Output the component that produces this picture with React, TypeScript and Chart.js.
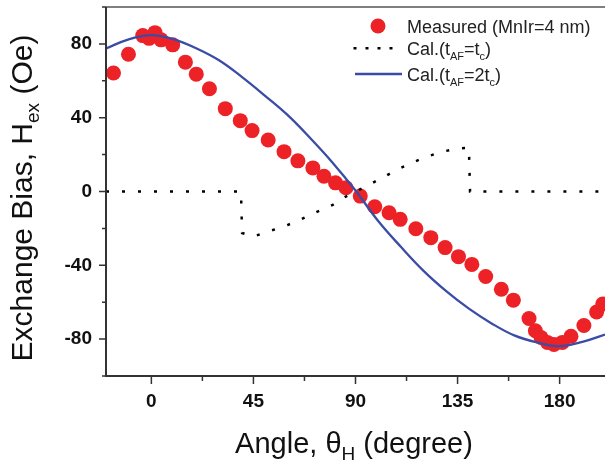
import React, { useEffect, useRef } from "react";
import { Chart, registerables } from "chart.js";

Chart.register(...registerables);

// ---- data ----
const measuredAngle = [
  -16.7, -10.1, -3.8, -1, 1.6, 4.3, 9.4, 15, 19.8, 25.6, 32.6, 39.2, 44.4, 51.5, 58.5, 64.6,
  71.2, 76.1, 81.2, 85.8, 92.1, 98.5, 104.8, 109.7, 116.6, 123.2, 129.5, 135.4, 141.3, 147.4,
  154.3, 159.6, 166.5, 169.3, 171.8, 174.6, 177.5, 181.2, 185, 190.7, 196.3, 199,
];
const measuredHex = [
  64.2, 74.4, 84.5, 83, 86.1, 82.2, 79.5, 70.1, 63.6, 55.7, 44.9, 38.4, 33, 27.9, 21.6, 16.6,
  12.8, 8.3, 4.7, 2.0, -2.5, -8.3, -11.5, -15.1, -20.2, -25, -30.4, -35.3, -39.5, -46.1,
  -53, -58.9, -68.8, -75.5, -79.1, -81.8, -82.9, -81.8, -78.5, -72.6, -65.3, -61,
];

const calTcAngle = [
  -20, 39.5, 40, 45, 50, 55, 60, 65, 70, 75, 80, 85, 90, 95, 100, 105, 110, 115, 120, 125,
  130, 135, 140, 140.5, 200,
];
const calTcHex = [
  0, 0, -22.5, -24.4, -22.3, -20.3, -18.2, -15.6, -12.7, -9.9, -7.2, -3.2, 0, 2.9, 6.3, 9.6,
  12.8, 15.6, 18.2, 20.3, 22, 23.3, 23.7, 0, 0,
];

const cal2TcAngle = [
  -20, -10, 0, 10, 20, 30, 40, 50, 60, 70, 80, 90, 100, 110, 120, 130, 140, 150, 160, 170,
  180, 190, 200,
];
const cal2TcHex = [
  77.5, 82.5, 84.8, 82.5, 77.5, 71, 62, 52, 41.5, 29, 15.5, 0.5, -16, -30, -43, -54, -63.5,
  -71.5, -78, -81.8, -83.8, -81.5, -77.5,
];

const xTicks = [0, 45, 90, 135, 180];
const xMinorTicks = [22.5, 67.5, 112.5, 157.5];
const yTicks = [-80, -40, 0, 40, 80];
const yMinorTicks = [-100, -60, -20, 20, 60, 100];

const legendLabels = ["Measured (MnIr=4 nm)", "Cal.(t", "AF", "=t", "c", ")"];

const FONT = "'Liberation Sans', Arial, Helvetica, sans-serif";
const RED = "#ec2227";
const BLUE = "#3a4ca5";
const AXIS = "#333333";

type Part = { t: string; size: number; dy: number };

function drawParts(ctx: CanvasRenderingContext2D, parts: Part[], x: number, y: number, align: "left" | "center") {
  let total = 0;
  const widths = parts.map((p) => {
    ctx.font = `${p.size}px ${FONT}`;
    const w = ctx.measureText(p.t).width;
    total += w;
    return w;
  });
  let cx = align === "center" ? x - total / 2 : x;
  ctx.textAlign = "left";
  ctx.textBaseline = "alphabetic";
  parts.forEach((p, i) => {
    ctx.font = `${p.size}px ${FONT}`;
    ctx.fillText(p.t, cx, y + p.dy);
    cx += widths[i];
  });
}

const decorPlugin = {
  id: "decor",
  afterDatasetsDraw(chart: any) {
    const ctx: CanvasRenderingContext2D = chart.ctx;
    const { left, right, top, bottom } = chart.chartArea;
    const xs = chart.scales.x;
    const ys = chart.scales.y;
    ctx.save();
    // frame
    ctx.strokeStyle = "#555555";
    ctx.lineWidth = 1.5;
    ctx.beginPath();
    ctx.moveTo(left, top);
    ctx.lineTo(right, top);
    ctx.stroke();
    ctx.strokeStyle = AXIS;
    ctx.lineWidth = 2;
    ctx.beginPath();
    ctx.moveTo(left, top);
    ctx.lineTo(left, bottom);
    ctx.lineTo(right, bottom);
    ctx.stroke();
    // ticks
    ctx.lineWidth = 1.5;
    ctx.beginPath();
    yTicks.forEach((v) => {
      const py = ys.getPixelForValue(v);
      ctx.moveTo(left, py);
      ctx.lineTo(left - 7, py);
    });
    yMinorTicks.forEach((v) => {
      const py = ys.getPixelForValue(v);
      ctx.moveTo(left, py);
      ctx.lineTo(left - 4, py);
    });
    xTicks.forEach((v) => {
      const px = xs.getPixelForValue(v);
      ctx.moveTo(px, bottom);
      ctx.lineTo(px, bottom + 8);
    });
    xMinorTicks.forEach((v) => {
      const px = xs.getPixelForValue(v);
      ctx.moveTo(px, bottom);
      ctx.lineTo(px, bottom + 5);
    });
    ctx.stroke();

    // axis titles
    ctx.fillStyle = "#111111";
    drawParts(
      ctx,
      [
        { t: "Angle, \u03B8", size: 29, dy: 0 },
        { t: "H", size: 19, dy: 7 },
        { t: " (degree)", size: 29, dy: 0 },
      ],
      354,
      453,
      "center"
    );
    ctx.save();
    ctx.translate(32, 198);
    ctx.rotate(-Math.PI / 2);
    drawParts(
      ctx,
      [
        { t: "Exchange Bias, H", size: 30, dy: 0 },
        { t: "ex", size: 19, dy: 7 },
        { t: " (Oe)", size: 30, dy: 0 },
      ],
      0,
      0,
      "center"
    );
    ctx.restore();

    // legend
    ctx.fillStyle = RED;
    ctx.beginPath();
    ctx.arc(378, 26, 7.5, 0, Math.PI * 2);
    ctx.fill();
    ctx.fillStyle = "#222222";
    drawParts(ctx, [{ t: legendLabels[0], size: 18, dy: 0 }], 407, 33, "left");
    // dotted sample
    ctx.fillStyle = "#000000";
    [355, 367, 379, 391].forEach((dx) => {
      ctx.fillRect(dx - 1.5, 47, 3, 2.5);
    });
    ctx.fillStyle = "#222222";
    drawParts(
      ctx,
      [
        { t: legendLabels[1], size: 18, dy: 0 },
        { t: legendLabels[2], size: 11, dy: 5 },
        { t: legendLabels[3], size: 18, dy: 0 },
        { t: legendLabels[4], size: 11, dy: 5 },
        { t: legendLabels[5], size: 18, dy: 0 },
      ],
      407,
      55,
      "left"
    );
    ctx.strokeStyle = BLUE;
    ctx.lineWidth = 2.5;
    ctx.beginPath();
    ctx.moveTo(355, 74);
    ctx.lineTo(402, 74);
    ctx.stroke();
    drawParts(
      ctx,
      [
        { t: legendLabels[1], size: 18, dy: 0 },
        { t: legendLabels[2], size: 11, dy: 5 },
        { t: "=2t", size: 18, dy: 0 },
        { t: legendLabels[4], size: 11, dy: 5 },
        { t: legendLabels[5], size: 18, dy: 0 },
      ],
      407,
      81,
      "left"
    );
    ctx.restore();
  },
};

function zeroPad(s: any) {
  s.paddingTop = 0;
  s.paddingBottom = 0;
  s.paddingLeft = 0;
  s.paddingRight = 0;
}

export default function App() {
  const ref = useRef<HTMLCanvasElement | null>(null);
  useEffect(() => {
    document.body.style.margin = "0";
    const canvas = ref.current;
    if (!canvas) return;
    const chart = new Chart(canvas, {
      type: "scatter",
      data: {
        datasets: [
          {
            label: "Measured (MnIr=4 nm)",
            data: measuredAngle.map((a, i) => ({ x: a, y: measuredHex[i] })),
            backgroundColor: RED,
            borderWidth: 0,
            pointRadius: 7.5,
            showLine: false,
            order: 3,
          },
          {
            label: "Cal.(tAF=tc)",
            data: calTcAngle.map((a, i) => ({ x: a, y: calTcHex[i] })),
            borderColor: "#000000",
            borderWidth: 2.5,
            borderDash: [3, 13],
            pointRadius: 0,
            showLine: true,
            tension: 0,
            order: 2,
          },
          {
            label: "Cal.(tAF=2tc)",
            data: cal2TcAngle.map((a, i) => ({ x: a, y: cal2TcHex[i] })),
            borderColor: BLUE,
            borderWidth: 2.3,
            pointRadius: 0,
            showLine: true,
            tension: 0.4,
            order: 1,
          },
        ],
      },
      options: {
        animation: false,
        responsive: false,
        devicePixelRatio: 1,
        layout: { autoPadding: false, padding: { top: 7, right: 0, left: 0, bottom: 0 } },
        plugins: { legend: { display: false }, tooltip: { enabled: false } },
        scales: {
          x: {
            type: "linear",
            min: -20,
            max: 200,
            grid: { display: false, drawTicks: false },
            border: { display: false },
            afterFit: (s: any) => {
              s.height = 88;
              zeroPad(s);
            },
            afterBuildTicks: (s: any) => {
              s.ticks = xTicks.map((v) => ({ value: v }));
            },
            ticks: {
              padding: 14,
              color: "#111111",
              font: { family: FONT, size: 19, weight: "bold" },
              maxRotation: 0,
            },
          },
          y: {
            type: "linear",
            min: -100,
            max: 100,
            grid: { display: false, drawTicks: false },
            border: { display: false },
            afterFit: (s: any) => {
              s.width = 106;
              zeroPad(s);
            },
            afterBuildTicks: (s: any) => {
              s.ticks = yTicks.map((v) => ({ value: v }));
            },
            ticks: {
              padding: 14,
              color: "#111111",
              font: { family: FONT, size: 19, weight: "bold" },
            },
          },
        },
      },
      plugins: [decorPlugin],
    } as any);
    return () => chart.destroy();
  }, []);
  return (
    <div style={{ position: "fixed", left: 0, top: 0, width: 605, height: 464, background: "#fff" }}>
      <canvas ref={ref} width={605} height={464} />
    </div>
  );
}
